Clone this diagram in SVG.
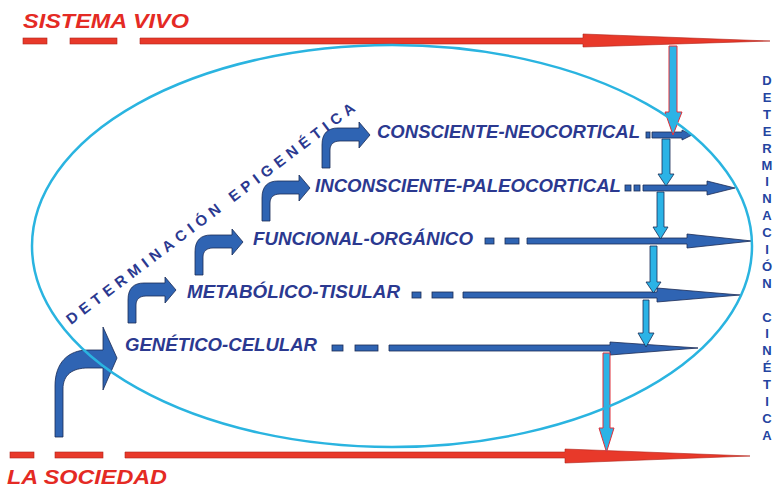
<svg xmlns="http://www.w3.org/2000/svg" width="773" height="488" viewBox="0 0 773 488">
  <style>
    .red{fill:#e8392a;stroke:#b0221a;stroke-width:0.6}
    .redtxt{fill:#e42a24;font-family:"Liberation Sans",Arial,sans-serif;font-weight:bold;font-style:italic;font-size:21px}
    .lbl{fill:#2b3990;font-family:"Liberation Sans",Arial,sans-serif;font-weight:bold;font-style:italic;font-size:18px}
    .blue{fill:#2f64b3;stroke:#1b2b55;stroke-width:0.8}
    .cyan{fill:#2bb3e6;stroke:#1b2b55;stroke-width:0.8}
    .cyanr{fill:#2bb3e6;stroke:#e0303a;stroke-width:1}
    .vtxt{fill:#2444a0;font-family:"Liberation Sans",Arial,sans-serif;font-weight:bold;font-size:13px;text-anchor:middle}
    .diag{fill:#2b3990;font-family:"Liberation Sans",Arial,sans-serif;font-weight:bold;font-size:15px}
  </style>
  <defs>
    <path id="bent" d="M0,33 L0,10 C0,-2 6,-7 16,-7 L37,-7 L37,-13 L48,0 L37,13 L37,6 L18,6 C12,6 8,9 8,15 L8,33 Z"/>
  </defs>

  <!-- Top red line: SISTEMA VIVO -->
  <g id="sistema-vivo">
    <text class="redtxt" x="23" y="28" textLength="166" lengthAdjust="spacingAndGlyphs">SISTEMA VIVO</text>
    <rect class="red" x="23" y="38" width="24" height="6"/>
    <rect class="red" x="70" y="38" width="47" height="6"/>
    <path class="red" d="M140,38 L583,38 L583,34 L770,41 L583,47 L583,44 L140,44 Z"/>
  </g>

  <!-- Bottom red line: LA SOCIEDAD -->
  <g id="la-sociedad">
    <rect class="red" x="10" y="452" width="24" height="6"/>
    <rect class="red" x="55" y="452" width="48" height="6"/>
    <path class="red" d="M125,452 L565,452 L565,449 L750,456 L565,463 L565,458 L125,458 Z"/>
    <text class="redtxt" x="7" y="484" font-size="20" textLength="160" lengthAdjust="spacingAndGlyphs">LA SOCIEDAD</text>
  </g>

  <!-- Level nodes -->
  <g id="consciente">
    <text class="lbl" x="377" y="138" textLength="263" lengthAdjust="spacingAndGlyphs">CONSCIENTE-NEOCORTICAL</text>
  </g>
  <g id="inconsciente">
    <text class="lbl" x="315" y="192" textLength="306" lengthAdjust="spacingAndGlyphs">INCONSCIENTE-PALEOCORTICAL</text>
  </g>
  <g id="funcional">
    <text class="lbl" x="253" y="245" textLength="220" lengthAdjust="spacingAndGlyphs">FUNCIONAL-ORGÁNICO</text>
  </g>
  <g id="metabolico">
    <text class="lbl" x="187" y="298" textLength="213" lengthAdjust="spacingAndGlyphs">METABÓLICO-TISULAR</text>
  </g>
  <g id="genetico">
    <text class="lbl" x="125" y="351" textLength="192" lengthAdjust="spacingAndGlyphs">GENÉTICO-CELULAR</text>
  </g>

  <!-- Connectors -->
  <g id="connectors">
    <!-- horizontal arrows -->
    <rect class="blue" x="646" y="132" width="4" height="6"/>
    <path class="blue" d="M652,132 L682,132 L682,130 L692,135 L682,140 L682,138 L652,138 Z"/>

    <rect class="blue" x="625" y="185" width="6" height="6"/>
    <rect class="blue" x="634" y="185" width="6" height="6"/>
    <path class="blue" d="M643,185 L707,185 L707,181 L735,188 L707,195 L707,191 L643,191 Z"/>

    <rect class="blue" x="485" y="238" width="9" height="6"/>
    <rect class="blue" x="505" y="238" width="14" height="6"/>
    <path class="blue" d="M527,238 L687,238 L687,234 L752,241 L687,248 L687,244 L527,244 Z"/>

    <rect class="blue" x="412" y="292" width="9" height="6"/>
    <rect class="blue" x="432" y="292" width="21" height="6"/>
    <path class="blue" d="M463,292 L657,292 L657,288 L740,295 L657,302 L657,298 L463,298 Z"/>

    <rect class="blue" x="332" y="345" width="11" height="6"/>
    <rect class="blue" x="355" y="345" width="23" height="6"/>
    <path class="blue" d="M389,345 L610,345 L610,342 L698,348 L610,355 L610,351 L389,351 Z"/>

    <!-- bent arrows -->
    <path class="blue" d="M55,437 L55,386 C55,363 68,350 88,350 L103,350 L103,327 L117,358 L103,390 L103,368 L88,368 C72,368 63,375 63,389 L63,437 Z"/>
    <use href="#bent" class="blue" transform="translate(128,290)"/>
    <use href="#bent" class="blue" transform="translate(195,242)"/>
    <use href="#bent" class="blue" transform="translate(262,188)"/>
    <use href="#bent" class="blue" transform="translate(322,135)"/>

    <!-- vertical arrows -->
    <path class="cyanr" d="M669,46 L677,46 L677,112 L682,112 L673,135 L665,112 L669,112 Z"/>
    <path class="cyan" d="M662,139 L670,139 L670,174 L674,174 L666,186 L658,174 L662,174 Z"/>
    <path class="cyan" d="M657,192 L664,192 L664,227 L668,227 L660.5,239 L653,227 L657,227 Z"/>
    <path class="cyan" d="M650,246 L657,246 L657,282 L661,282 L653.5,293 L646,282 L650,282 Z"/>
    <path class="cyan" d="M643,300 L649,300 L649,333 L654,333 L646,347 L638,333 L643,333 Z"/>
    <path class="cyanr" d="M603,353 L610,353 L610,428 L614,428 L606.5,452 L599,428 L603,428 Z"/>
  </g>

  <!-- Ellipse -->
  <g id="sistema">
    <ellipse cx="392" cy="246" rx="360" ry="201" fill="none" stroke="#2ab4e0" stroke-width="2.5"/>
  </g>

  <!-- Diagonal label -->
  <g id="determinacion-epigenetica">
    <text class="diag" transform="translate(71,325) rotate(-37)" x="0" y="0" textLength="357" lengthAdjust="spacing">DETERMINACIÓN EPIGENÉTICA</text>
  </g>

  <!-- Vertical label -->
  <g id="determinacion-cinetica">
    <text class="vtxt" x="767" y="85">D<tspan x="767" dy="16.9">E</tspan><tspan x="767" dy="16.9">T</tspan><tspan x="767" dy="16.9">E</tspan><tspan x="767" dy="16.9">R</tspan><tspan x="767" dy="16.9">M</tspan><tspan x="767" dy="16.9">I</tspan><tspan x="767" dy="16.9">N</tspan><tspan x="767" dy="16.9">A</tspan><tspan x="767" dy="16.9">C</tspan><tspan x="767" dy="16.9">I</tspan><tspan x="767" dy="16.9">Ó</tspan><tspan x="767" dy="16.9">N</tspan><tspan x="767" dy="33.8">C</tspan><tspan x="767" dy="16.9">I</tspan><tspan x="767" dy="16.9">N</tspan><tspan x="767" dy="16.9">É</tspan><tspan x="767" dy="16.9">T</tspan><tspan x="767" dy="16.9">I</tspan><tspan x="767" dy="16.9">C</tspan><tspan x="767" dy="16.9">A</tspan></text>
  </g>
</svg>
